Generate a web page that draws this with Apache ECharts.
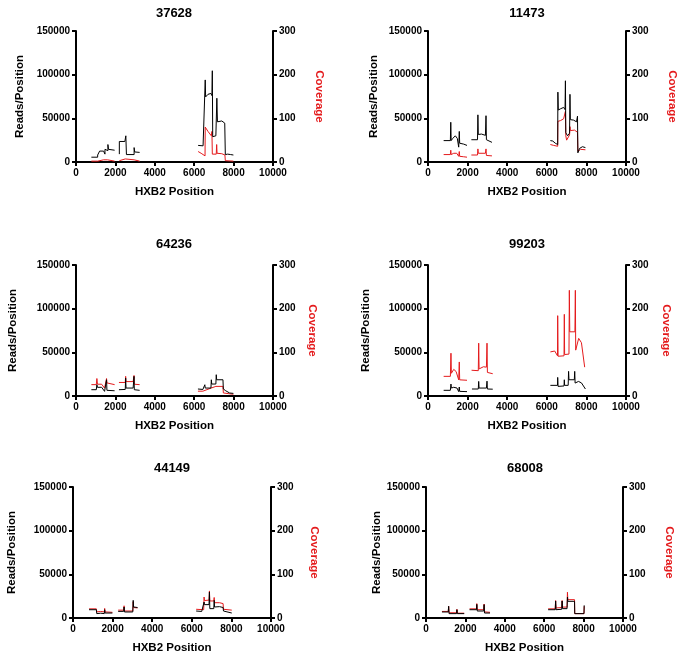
<!DOCTYPE html>
<html><head><meta charset="utf-8">
<script src="https://cdn.jsdelivr.net/npm/echarts@6/dist/echarts.min.js"></script>
<style>html,body{margin:0;padding:0;background:#fff}#c{width:683px;height:656px}</style>
</head><body><div id="c"></div>
<script>
// ---- data (HXB2 position, value); null = gap between amplicon segments ----
const panelIds = ['37628','11473','64236','99203','44149','68008'];
const xTickValues = [0,2000,4000,6000,8000,10000];
const readsTicks = [0,50000,100000,150000];
const coverageTicks = [0,100,200,300];

const reads37628 = [[780,5500],[1100,5500],[1100,8000],[1200,12500],[1300,13500],[1400,12500],[1470,9000],[1470,14500],[1560,13500],[1620,13000],[1620,20000],[1650,14500],[1960,13500],null,
  [2200,9000],[2200,23500],[2480,23500],[2530,21500],[2530,30000],[2560,8500],[2950,8500],[2950,16500],[2980,11500],[3230,11000],null,
  [6200,19000],[6300,20500],[6450,18500],[6550,16500],[6560,94000],[6580,74500],[6700,77500],[6850,78500],[6900,76000],[6920,104500],[6940,29000],[7100,30000],[7130,28000],[7150,73000],[7180,46000],[7400,47000],[7550,44500],[7580,8500],[7700,9000],[7850,8500],[7990,8000]];
const cov37628 = [[780,2],[1100,2],[1200,4],[1400,5],[1450,3],[1600,5],[1650,3],[1960,2],null,
  [2200,3],[2300,6],[2500,7],[2550,9],[2600,5],[2950,5],[3000,3],[3230,2],null,
  [6200,24],[6350,20],[6550,14],[6560,80],[6700,70],[6870,60],[6900,70],[6920,18],[7120,18],[7140,40],[7160,20],[7400,19],[7560,16],[7580,3],[7990,2]];

const reads11473 = [[790,24500],[1130,24500],[1150,45500],[1170,24500],[1250,27000],[1380,30000],[1480,27000],[1550,17000],[1580,35000],[1600,21500],[1800,20500],[1970,19000],null,
  [2190,25500],[2500,25500],[2520,54000],[2540,31500],[2700,32000],[2900,30500],[2930,53000],[2950,25500],[3230,22500],null,
  [6180,24500],[6300,24000],[6430,21500],[6550,20000],[6560,80000],[6580,59500],[6700,61000],[6850,62500],[6920,60000],[6940,93000],[6960,33500],[7050,30000],[7150,33000],[7170,77500],[7190,48500],[7350,48000],[7500,46000],[7550,52500],[7570,10500],[7650,15500],[7800,17500],[7950,16500]];
const cov11473 = [[790,17],[1130,17],[1150,27],[1170,17],[1300,20],[1450,20],[1550,13],[1580,24],[1600,13],[1800,12],[1970,11],null,
  [2190,16],[2500,16],[2520,30],[2540,20],[2900,20],[2930,30],[2950,15],[3230,14],null,
  [6180,40],[6350,38],[6550,36],[6560,93],[6700,95],[6850,99],[6930,100],[6940,116],[6960,60],[7000,50],[7100,52],[7150,62],[7170,81],[7190,72],[7400,73],[7550,68],[7570,24],[7700,29],[7950,28]];

const reads64236 = [[780,7200],[1030,7200],[1060,12900],[1090,9900],[1300,10000],[1450,5300],[1540,5500],[1550,18600],[1570,6500],[1960,6000],null,
  [2180,7200],[2500,7500],[2520,20500],[2540,9100],[2900,9100],[2945,22500],[2960,7200],[3230,6500],null,
  [6190,8000],[6440,7500],[6530,7500],[6540,12900],[6560,9100],[6850,9100],[6870,18600],[6890,13700],[7100,13700],[7120,24400],[7140,18600],[7460,18600],[7480,8000],[7600,6000],[7800,3400],[7990,3000]];
const cov64236 = [[780,26],[1030,26],[1060,40],[1090,27],[1300,27],[1450,18],[1540,19],[1550,40],[1570,30],[1960,26],null,
  [2180,31],[2500,31],[2520,45],[2540,33],[2900,33],[2945,47],[2960,27],[3230,26],null,
  [6190,11],[6440,11],[6530,13],[6540,15],[6850,18],[6870,22],[7100,22],[7120,22],[7460,22],[7480,7],[7800,5],[7990,4]];

const reads99203 = [[790,6500],[1130,6500],[1160,13700],[1180,9100],[1300,10000],[1465,9100],[1550,5000],[1580,10300],[1600,5300],[1970,5000],null,
  [2220,8000],[2540,8000],[2560,16700],[2580,9100],[2950,9100],[2980,17000],[3000,8000],[3270,7800],null,
  [6180,12200],[6540,12200],[6550,21300],[6570,11000],[6870,11500],[6885,18600],[6900,12200],[7080,12200],[7100,28200],[7120,18600],[7390,18600],[7410,28200],[7430,14800],[7600,16700],[7750,15000],[7950,8000]];
const cov99203 = [[790,45],[1130,45],[1160,98],[1180,52],[1300,61],[1420,56],[1550,37],[1580,78],[1600,37],[1970,36],null,
  [2200,59],[2540,58],[2560,121],[2580,62],[2800,67],[2950,66],[2980,121],[3000,54],[3270,51],null,
  [6180,101],[6400,103],[6540,92],[6550,184],[6570,91],[6870,92],[6885,187],[6900,95],[7120,96],[7138,242],[7160,147],[7420,147],[7442,242],[7460,105],[7610,132],[7750,122],[7913,66]];

const reads44149 = [[810,9500],[1180,9500],[1200,5000],[1400,5500],[1580,5000],[1600,9500],[1620,5700],[1990,5700],null,
  [2280,7600],[2560,7600],[2580,12600],[2600,6900],[3020,6900],[3040,20200],[3060,12600],[3260,12000],null,
  [6220,8000],[6500,7500],[6600,6900],[6620,18300],[6640,15300],[6870,15300],[6890,29800],[6910,10700],[7110,10700],[7130,20200],[7150,12600],[7400,13000],[7580,12000],[7600,8000],[8020,5700]];
const cov44149 = [[810,21],[1180,21],[1200,14],[1400,15],[1580,14],[1600,22],[1620,14],[1990,13],null,
  [2280,18],[2560,18],[2580,28],[2600,16],[3020,16],[3040,37],[3060,24],[3260,23],null,
  [6220,20],[6600,19],[6620,48],[6640,40],[6870,41],[6890,62],[6910,39],[7110,39],[7130,47],[7150,35],[7400,35],[7580,33],[7600,20],[8020,18]];

const reads68008 = [[810,6900],[1130,6900],[1150,13400],[1170,5000],[1550,5000],[1570,9500],[1590,5000],[1940,5000],null,
  [2210,9500],[2560,9500],[2580,15600],[2600,8000],[2930,8000],[2950,15300],[2970,5700],[3250,5700],null,
  [6200,9500],[6560,9500],[6580,19500],[6600,9500],[6890,10000],[6910,19500],[6930,10700],[7160,10700],[7180,24000],[7200,19100],[7540,19100],[7550,5000],[8020,5000],[8030,14500]];
const cov68008 = [[810,15],[1130,15],[1150,27],[1170,12],[1550,12],[1570,20],[1590,11],[1940,11],null,
  [2210,21],[2560,21],[2580,33],[2600,19],[2930,19],[2950,32],[2970,14],[3250,13],null,
  [6200,21],[6560,21],[6580,40],[6600,23],[6890,24],[6910,40],[6930,25],[7160,25],[7180,59],[7200,42],[7540,42],[7550,10],[8020,10],[8030,27]];

const readsSeries = [reads37628, reads11473, reads64236, reads99203, reads44149, reads68008];
const covSeries = [cov37628, cov11473, cov64236, cov99203, cov44149, cov68008];

// ---- layout ----
const layout = [
  {left:76, top:31, w:197, h:131, rg:50, cg:40, tx:174, ty:7},
  {left:428, top:31, w:198, h:131, rg:48, cg:40, tx:527, ty:7},
  {left:76, top:265, w:197, h:131, rg:57, cg:33, tx:174, ty:238},
  {left:428, top:265, w:198, h:131, rg:56, cg:34, tx:527, ty:238},
  {left:73, top:487, w:198, h:131, rg:55, cg:37, tx:172, ty:462},
  {left:426, top:487, w:197, h:131, rg:40, cg:40, tx:525, ty:462}
];
const FONT = 'Liberation Sans, Arial, sans-serif';
const RED = '#e41a1c';
const toData = arr => arr.map(p => p === null ? ['-','-'] : p);
const plain = v => String(v);

const grid = [], xAxis = [], yAxis = [], series = [], graphic = [];
const axLine = {show:true, lineStyle:{color:'#000', width:2}};
const axTick = {show:true, inside:false, length:4, lineStyle:{color:'#000', width:2}};
const lbl = {color:'#000', fontWeight:'bold', fontSize:10, fontFamily:FONT, formatter:plain};
layout.forEach((L, i) => {
  grid.push({left:L.left, top:L.top, width:L.w, height:L.h, containLabel:false});
  xAxis.push({type:'value', gridIndex:i, min:xTickValues[0], max:xTickValues[xTickValues.length-1], interval:xTickValues[1]-xTickValues[0],
    axisLine:axLine, axisTick:axTick, splitLine:{show:false}, axisLabel:Object.assign({margin:6}, lbl),
    name:'HXB2 Position', nameLocation:'middle', nameGap:24,
    nameTextStyle:{color:'#000', fontWeight:'bold', fontSize:11.5, fontFamily:FONT}});
  yAxis.push({type:'value', gridIndex:i, position:'left', min:readsTicks[0], max:readsTicks[readsTicks.length-1], interval:readsTicks[1]-readsTicks[0],
    axisLine:axLine, axisTick:axTick, splitLine:{show:false}, axisLabel:Object.assign({margin:6}, lbl),
    name:'Reads/Position', nameLocation:'middle', nameGap:L.rg, nameRotate:90,
    nameTextStyle:{color:'#000', fontWeight:'bold', fontSize:11.5, fontFamily:FONT}});
  yAxis.push({type:'value', gridIndex:i, position:'right', min:coverageTicks[0], max:coverageTicks[coverageTicks.length-1], interval:coverageTicks[1]-coverageTicks[0],
    axisLine:axLine, axisTick:axTick, splitLine:{show:false}, axisLabel:Object.assign({margin:6}, lbl),
    name:'Coverage', nameLocation:'middle', nameGap:L.cg, nameRotate:-90,
    nameTextStyle:{color:RED, fontWeight:'bold', fontSize:11.5, fontFamily:FONT}});
  series.push({type:'line', xAxisIndex:i, yAxisIndex:2*i+1, data:toData(covSeries[i]), showSymbol:false, symbol:'none',
    connectNulls:false, lineStyle:{color:RED, width:1}, itemStyle:{color:RED}, animation:false, silent:true});
  series.push({type:'line', xAxisIndex:i, yAxisIndex:2*i, data:toData(readsSeries[i]), showSymbol:false, symbol:'none',
    connectNulls:false, lineStyle:{color:'#000', width:1}, itemStyle:{color:'#000'}, animation:false, silent:true});
  graphic.push({type:'text', x:L.tx, y:L.ty, style:{text:panelIds[i], fill:'#000', font:'bold 13px ' + FONT, textAlign:'center'}});
});

const chart = echarts.init(document.getElementById('c'), null, {renderer:'canvas'});
chart.setOption({animation:false, grid, xAxis, yAxis, series, graphic});
</script></body></html>
